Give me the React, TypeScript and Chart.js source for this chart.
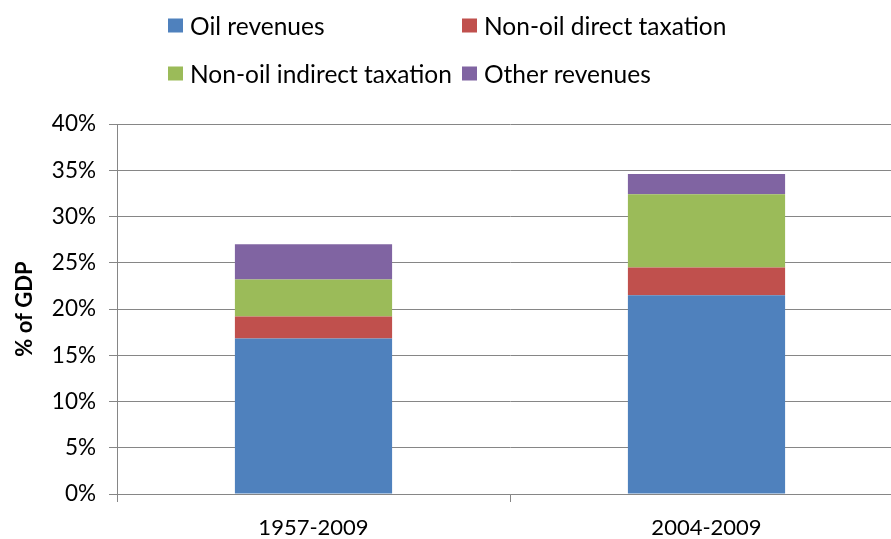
import React, { useEffect, useRef } from "react";
import { Chart, registerables } from "chart.js";

Chart.register(...registerables);

const categories = ["1957-2009", "2004-2009"];
const oilRevenues = [16.8, 21.5];
const nonOilDirectTaxation = [2.4, 3.0];
const nonOilIndirectTaxation = [4.0, 7.9];
const otherRevenues = [3.8, 2.2];
const seriesNames = ["Oil revenues", "Non-oil direct taxation", "Non-oil indirect taxation", "Other revenues"];
const seriesColors = ["#4F81BD", "#C0504D", "#9BBB59", "#8064A2"];
const yAxisTitle = "% of GDP";

const FONT = "Lato, 'Open Sans', sans-serif";

export default function App() {
  const ref = useRef<HTMLCanvasElement | null>(null);

  useEffect(() => {
    if (!ref.current) return;
    const values = [oilRevenues, nonOilDirectTaxation, nonOilIndirectTaxation, otherRevenues];
    const chart = new Chart(ref.current, {
      type: "bar",
      data: {
        labels: categories,
        datasets: seriesNames.map((name, i) => ({
          label: name,
          data: values[i],
          backgroundColor: seriesColors[i],
          borderWidth: 0,
          categoryPercentage: 1,
          barPercentage: 0.4,
        })),
      },
      options: {
        animation: false,
        responsive: false,
        maintainAspectRatio: false,
        layout: { padding: { top: 124, right: 27, left: 0, bottom: 0 } },
        plugins: { legend: { display: false }, tooltip: { enabled: false } },
        scales: {
          x: {
            stacked: true,
            offset: true,
            grid: {
              offset: true,
              drawOnChartArea: false,
              drawTicks: true,
              tickLength: 8,
              color: "#868686",
            },
            border: { display: true, color: "#868686", width: 1 },
            ticks: {
              color: "#000000",
              font: { family: FONT, size: 22 },
              padding: 13,
            },
            afterFit: (scale: any) => {
              scale.height = 45;
            },
          },
          y: {
            stacked: true,
            min: 0,
            max: 40,
            grid: {
              color: "#868686",
              lineWidth: 1,
              drawTicks: true,
              tickLength: 8,
            },
            border: { display: true, color: "#868686", width: 1 },
            ticks: {
              stepSize: 5,
              color: "#000000",
              font: { family: FONT, size: 22.5 },
              padding: 13,
              callback: (v: any) => `${v}%`,
            },
            title: {
              display: true,
              text: yAxisTitle,
              color: "#000000",
              font: { family: FONT, size: 22, weight: "bold" },
              padding: { top: 12, bottom: 0 },
            },
            afterFit: (scale: any) => {
              scale.width = 117;
            },
          },
        },
      },
    });
    return () => chart.destroy();
  }, []);

  const legendPos = [
    { left: 168, top: 25 },
    { left: 462, top: 25 },
    { left: 168, top: 73 },
    { left: 462, top: 73 },
  ];

  return (
    <div
      style={{
        position: "fixed",
        left: 0,
        top: 0,
        width: 891,
        height: 539,
        overflow: "hidden",
        background: "#ffffff",
      }}
    >
      <canvas
        ref={ref}
        width={930}
        height={539}
        style={{ position: "absolute", left: 0, top: 0, width: 930, height: 539, display: "block" }}
      />
      {seriesNames.map((name, i) => (
        <div
          key={name}
          style={{
            position: "absolute",
            left: legendPos[i].left,
            top: legendPos[i].top,
            transform: "translateY(-50%)",
            display: "flex",
            alignItems: "center",
            fontFamily: FONT,
            fontSize: 24.5,
            color: "#000000",
            whiteSpace: "nowrap",
          }}
        >
          <span
            style={{
              display: "inline-block",
              width: 15,
              height: 14,
              background: seriesColors[i],
              marginRight: 7,
            }}
          />
          <span>{name}</span>
        </div>
      ))}
    </div>
  );
}
